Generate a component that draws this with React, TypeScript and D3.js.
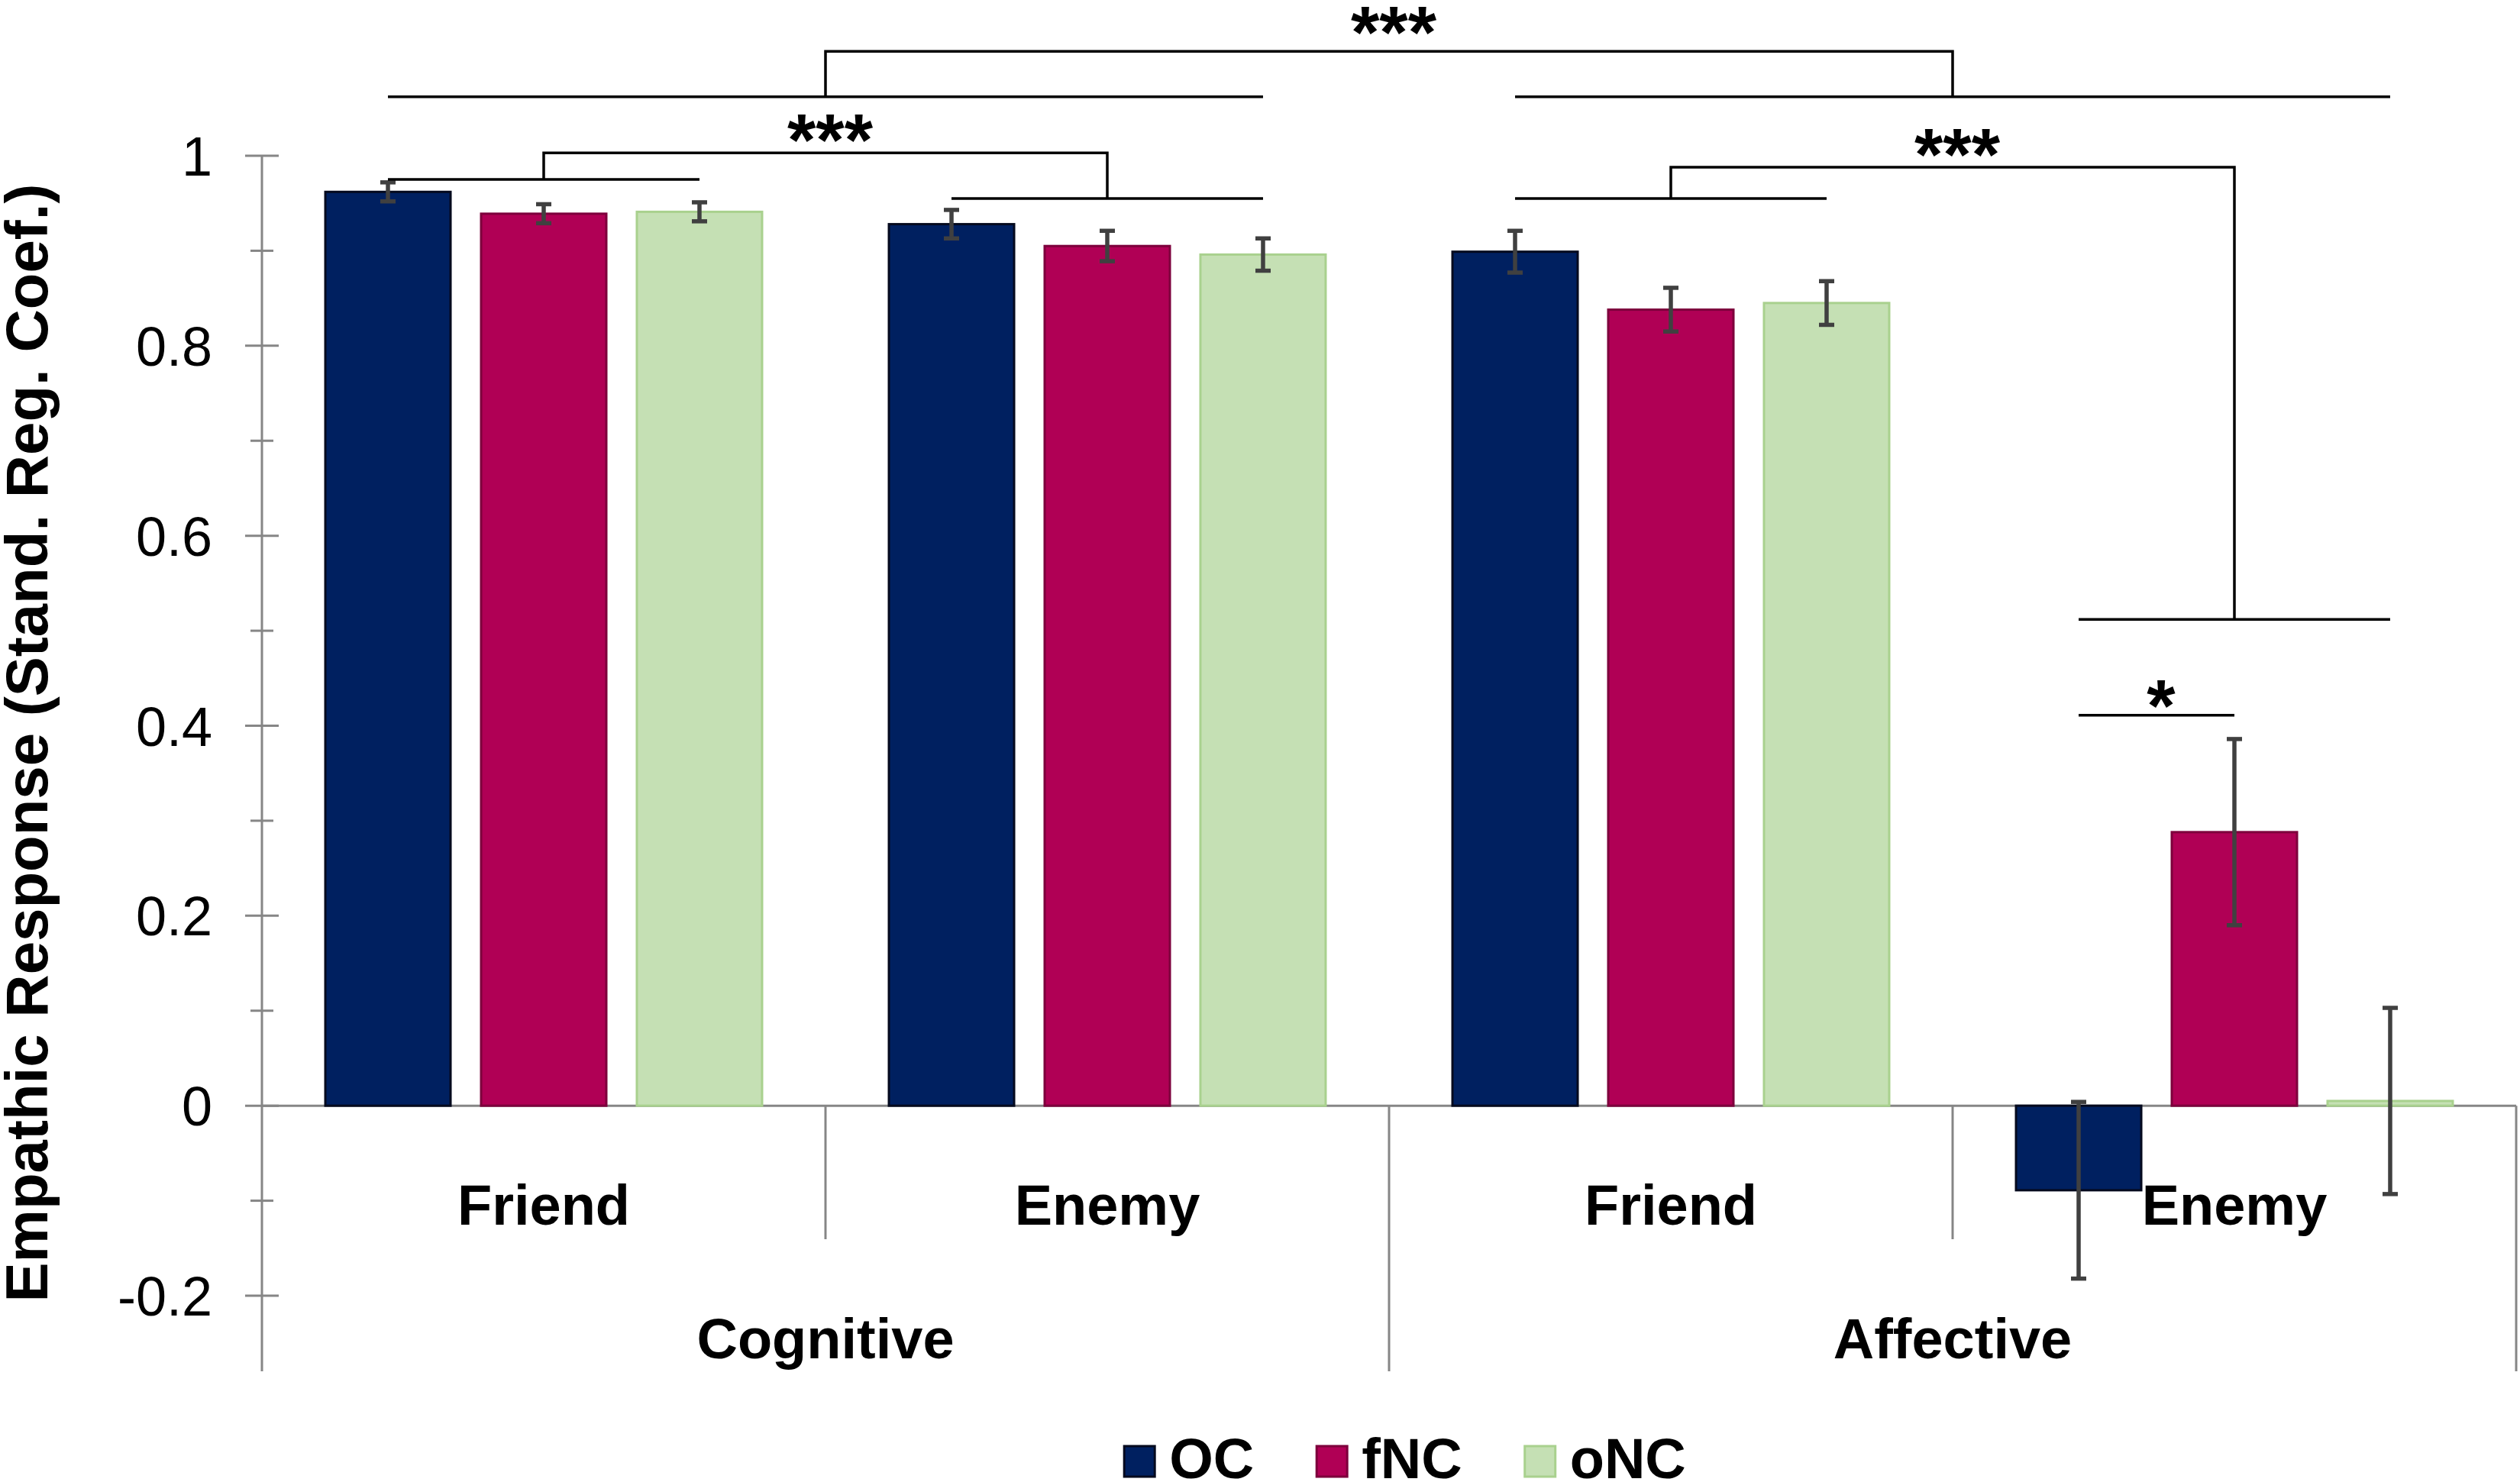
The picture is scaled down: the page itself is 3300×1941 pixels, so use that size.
import { useEffect, useRef } from "react"
import * as d3 from "d3"

// Empathic response by condition, grouped by empathy type
const empathyTypes = ["Cognitive", "Affective"]
const conditions = ["Friend", "Enemy", "Friend", "Enemy"]
const conditionParents = ["Cognitive", "Cognitive", "Affective", "Affective"]
const seriesNames = ["OC", "fNC", "oNC"]

const ocValues = [0.962, 0.928, 0.899, -0.089]
const fncValues = [0.939, 0.905, 0.838, 0.288]
const oncValues = [0.941, 0.896, 0.845, 0.005]

const ocErrors = [0.010, 0.015, 0.022, 0.093]
const fncErrors = [0.010, 0.016, 0.023, 0.098]
const oncErrors = [0.010, 0.017, 0.023, 0.098]

const yTicks = [-0.2, 0, 0.2, 0.4, 0.6, 0.8, 1]
const yTickLabels = ["-0.2", "0", "0.2", "0.4", "0.6", "0.8", "1"]
const yMinorTicks = [-0.1, 0.1, 0.3, 0.5, 0.7, 0.9]

// significance brackets (levels in data units)
type Span = { from: [number, string]; to: [number, string]; level: number }
const sigComparisons: { label: string; a: Span; b: Span | null; top: number; labelLevel: number }[] = [
  { label: "***", a: { from: [0, "OC"], to: [1, "oNC"], level: 1.062 }, b: { from: [2, "OC"], to: [3, "oNC"], level: 1.062 }, top: 1.110, labelLevel: 1.104 },
  { label: "***", a: { from: [0, "OC"], to: [0, "oNC"], level: 0.975 }, b: { from: [1, "OC"], to: [1, "oNC"], level: 0.955 }, top: 1.003, labelLevel: 0.990 },
  { label: "***", a: { from: [2, "OC"], to: [2, "oNC"], level: 0.955 }, b: { from: [3, "OC"], to: [3, "oNC"], level: 0.512 }, top: 0.988, labelLevel: 0.975 },
  { label: "*", a: { from: [3, "OC"], to: [3, "fNC"], level: 0.411 }, b: null, top: 0.411, labelLevel: 0.395 },
]

const COLORS: Record<string, { fill: string; stroke: string }> = {
  OC: { fill: "#002060", stroke: "#050a1e" },
  fNC: { fill: "#b00055", stroke: "#7d003c" },
  oNC: { fill: "#c5e0b4", stroke: "#a9d18e" },
}

const FONT = "'Liberation Sans', Arial, sans-serif"
const AXIS_COLOR = "#868686"

export default function App() {
  const svgRef = useRef<SVGSVGElement>(null)

  useEffect(() => {
    if (!svgRef.current) return
    const width = 3300
    const height = 1941
    const svg = d3.select(svgRef.current)
    svg.selectAll("*").remove()
    svg.attr("width", width).attr("height", height)

    const plotLeft = 343
    const plotRight = 3295
    const level1Bottom = 1623
    const level2Bottom = 1796

    const groupKeys = conditions.map((c, i) => `${conditionParents[i]}-${c}-${i}`)
    const valuesBySeries: Record<string, number[]> = { OC: ocValues, fNC: fncValues, oNC: oncValues }
    const errorsBySeries: Record<string, number[]> = { OC: ocErrors, fNC: fncErrors, oNC: oncErrors }

    const y = d3.scaleLinear().domain([-0.2, 1]).range([1697, 204])
    const x0 = d3.scaleBand().domain(groupKeys).range([plotLeft, plotRight]).padding(0)
    const x1 = d3.scaleBand().domain(seriesNames).range([0, x0.bandwidth()])
      .paddingInner(0.196).paddingOuter(0.407)
    const parentX = d3.scaleBand().domain(empathyTypes).range([plotLeft, plotRight])

    const barCenter = (gi: number, s: string) => x0(groupKeys[gi])! + x1(s)! + x1.bandwidth() / 2

    const g = svg.append("g")

    // Y axis
    g.append("line")
      .attr("x1", plotLeft).attr("x2", plotLeft)
      .attr("y1", y(1)).attr("y2", level2Bottom)
      .attr("stroke", AXIS_COLOR).attr("stroke-width", 3)
    g.selectAll(".major").data(yTicks).enter().append("line")
      .attr("x1", plotLeft - 22).attr("x2", plotLeft + 22)
      .attr("y1", d => y(d)).attr("y2", d => y(d))
      .attr("stroke", AXIS_COLOR).attr("stroke-width", 3)
    g.selectAll(".minor").data(yMinorTicks).enter().append("line")
      .attr("x1", plotLeft - 15).attr("x2", plotLeft + 15)
      .attr("y1", d => y(d)).attr("y2", d => y(d))
      .attr("stroke", AXIS_COLOR).attr("stroke-width", 3)
    g.selectAll(".ytl").data(yTicks).enter().append("text")
      .attr("x", 278).attr("y", d => y(d) + 26)
      .attr("text-anchor", "end")
      .attr("font-family", FONT).attr("font-size", 72).attr("fill", "#000")
      .text((_, i) => yTickLabels[i])

    // Y title
    g.append("text")
      .attr("transform", `translate(62,${973}) rotate(-90)`)
      .attr("text-anchor", "middle")
      .attr("font-family", FONT).attr("font-size", 78).attr("font-weight", "bold")
      .text("Empathic Response (Stand. Reg. Coef.)")

    // Category axis at zero
    g.append("line")
      .attr("x1", plotLeft).attr("x2", plotRight)
      .attr("y1", y(0)).attr("y2", y(0))
      .attr("stroke", AXIS_COLOR).attr("stroke-width", 3)
    // separators between conditions within a parent
    groupKeys.forEach((k, i) => {
      if (i === 0) return
      const isParentEdge = conditionParents[i] !== conditionParents[i - 1]
      if (isParentEdge) return
      g.append("line")
        .attr("x1", x0(k)!).attr("x2", x0(k)!)
        .attr("y1", y(0)).attr("y2", level1Bottom)
        .attr("stroke", AXIS_COLOR).attr("stroke-width", 3)
    })
    // separators between parents, plus the right end
    const parentEdges = [...empathyTypes.slice(1).map(p => parentX(p)!), plotRight]
    parentEdges.forEach(px => {
      g.append("line")
        .attr("x1", px).attr("x2", px)
        .attr("y1", y(0)).attr("y2", level2Bottom)
        .attr("stroke", AXIS_COLOR).attr("stroke-width", 3)
    })

    // Bars
    seriesNames.forEach(s => {
      g.selectAll(`.bar-${s}`)
        .data(valuesBySeries[s])
        .enter()
        .append("rect")
        .attr("x", (_, i) => x0(groupKeys[i])! + x1(s)!)
        .attr("y", d => y(Math.max(0, d)))
        .attr("width", x1.bandwidth())
        .attr("height", d => Math.abs(y(d) - y(0)))
        .attr("fill", COLORS[s].fill)
        .attr("stroke", COLORS[s].stroke)
        .attr("stroke-width", 3)
    })

    // Category labels
    conditions.forEach((c, i) => {
      g.append("text")
        .attr("x", x0(groupKeys[i])! + x0.bandwidth() / 2)
        .attr("y", 1604)
        .attr("text-anchor", "middle")
        .attr("font-family", FONT).attr("font-size", 74).attr("font-weight", "bold")
        .text(c)
    })
    empathyTypes.forEach(p => {
      g.append("text")
        .attr("x", parentX(p)! + parentX.bandwidth() / 2)
        .attr("y", 1779)
        .attr("text-anchor", "middle")
        .attr("font-family", FONT).attr("font-size", 74).attr("font-weight", "bold")
        .text(p)
    })

    // Error bars
    const cap = 10
    seriesNames.forEach(s => {
      valuesBySeries[s].forEach((v, i) => {
        const e = errorsBySeries[s][i]
        const cx = barCenter(i, s)
        const eg = g.append("g").attr("stroke", "#404040").attr("stroke-width", 5.5)
        eg.append("line").attr("x1", cx).attr("x2", cx).attr("y1", y(v + e)).attr("y2", y(v - e))
        eg.append("line").attr("x1", cx - cap).attr("x2", cx + cap).attr("y1", y(v + e)).attr("y2", y(v + e))
        eg.append("line").attr("x1", cx - cap).attr("x2", cx + cap).attr("y1", y(v - e)).attr("y2", y(v - e))
      })
    })

    // Significance brackets
    const bg = g.append("g").attr("stroke", "#000").attr("stroke-width", 3.5).attr("fill", "none")
    const drawSpan = (sp: Span) => {
      const xa = barCenter(sp.from[0], sp.from[1])
      const xb = barCenter(sp.to[0], sp.to[1])
      bg.append("line").attr("x1", xa).attr("x2", xb).attr("y1", y(sp.level)).attr("y2", y(sp.level))
      return (xa + xb) / 2
    }
    sigComparisons.forEach(c => {
      const ma = drawSpan(c.a)
      let labelX = ma
      if (c.b) {
        const mb = drawSpan(c.b)
        const path = d3.path()
        path.moveTo(ma, y(c.a.level))
        path.lineTo(ma, y(c.top))
        path.lineTo(mb, y(c.top))
        path.lineTo(mb, y(c.b.level))
        bg.append("path").attr("d", path.toString())
        labelX = (ma + mb) / 2
      }
      g.append("text")
        .attr("x", labelX + 6)
        .attr("y", y(c.labelLevel))
        .attr("text-anchor", "middle")
        .attr("font-family", FONT).attr("font-size", 96).attr("font-weight", "bold")
        .text(c.label)
    })

    // Legend
    const legend = g.append("g")
    let cursor = 0
    const items: { s: string; x: number; tx: number }[] = []
    seriesNames.forEach((s, i) => {
      const t = legend.append("text")
        .attr("font-family", FONT).attr("font-size", 74).attr("font-weight", "bold")
        .attr("y", 1936)
        .text(s)
      const tw = (t.node() as SVGTextElement).getComputedTextLength()
      items.push({ s, x: cursor, tx: cursor + 59 })
      cursor += 59 + tw + (i < seriesNames.length - 1 ? 82 : 0)
    })
    const legendStart = 1840 - cursor / 2
    legend.selectAll("text").each(function (_, i) {
      d3.select(this).attr("x", legendStart + items[i].tx)
    })
    items.forEach(it => {
      legend.append("rect")
        .attr("x", legendStart + it.x).attr("y", 1894)
        .attr("width", 40).attr("height", 40)
        .attr("fill", COLORS[it.s].fill)
        .attr("stroke", COLORS[it.s].stroke).attr("stroke-width", 3)
    })
  }, [])

  return (
    <div style={{ position: "absolute", left: 0, top: 0, background: "#fff" }}>
      <svg ref={svgRef} style={{ display: "block" }} />
    </div>
  )
}
